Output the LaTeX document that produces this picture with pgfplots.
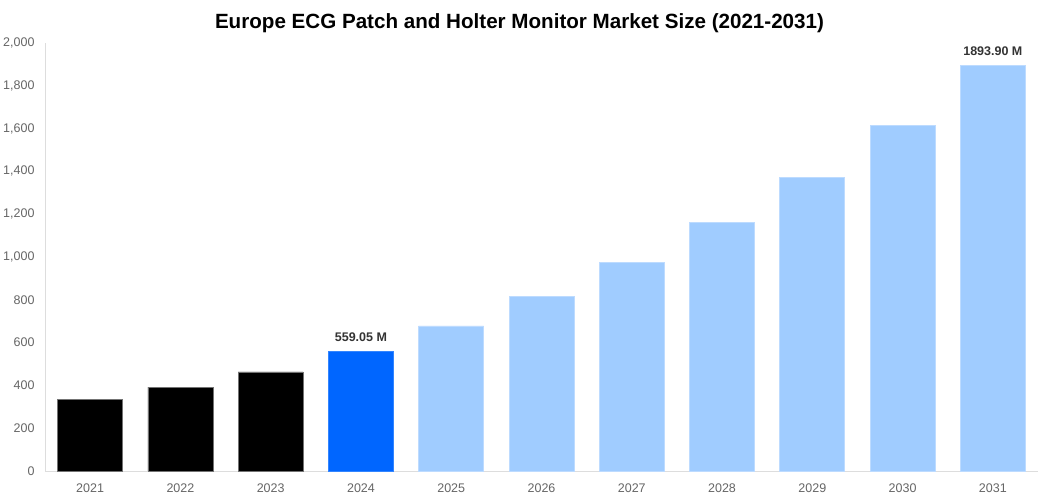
\documentclass[border=0pt]{standalone}
\usepackage{pgfplots}
\pgfplotsset{compat=1.18}
\usepackage{fontspec}
\setmainfont{Liberation Sans}
\definecolor{barblack}{HTML}{000000}
\definecolor{barblue}{HTML}{0066FF}
\definecolor{barlight}{HTML}{A0CCFF}
\definecolor{ticktext}{HTML}{666666}
\definecolor{axisline}{HTML}{DDDDDD}
\definecolor{labeltext}{HTML}{333333}
\begin{document}
\begin{tikzpicture}
\useasboundingbox (0,0) rectangle (1039bp,500bp);
\fill[white] (0,0) rectangle (1039bp,500bp);
\node[font=\fontsize{20.6bp}{24bp}\selectfont\bfseries, anchor=base] at (519.5bp,471bp) {Europe ECG Patch and Holter Monitor Market Size (2021-2031)};
\begin{axis}[
  at={(45bp,29bp)}, anchor=south west,
  scale only axis, width=993bp, height=428bp,
  xmin=-0.5, xmax=10.5, ymin=0, ymax=2000,
  ybar, bar width=65bp, bar shift=0pt,
  xtick={0,...,10},
  xticklabels={2021,2022,2023,2024,2025,2026,2027,2028,2029,2030,2031},
  ytick={0,200,...,2000},
  scaled y ticks=false,
  /pgf/number format/fixed,
  /pgf/number format/1000 sep={,},
  /pgf/number format/assume math mode=true,
  ticklabel style={font=\fontsize{12.5bp}{15bp}\selectfont, text=ticktext},
  xticklabel style={yshift=-9bp},
  yticklabel style={xshift=-7bp},
  major tick length=0pt,
  axis x line*=bottom, axis y line*=left,
  axis line style={axisline, line width=0.8bp},
  x axis line style={-}, y axis line style={-},
  nodes near coords style={font=\fontsize{12.5bp}{15bp}\selectfont\bfseries, text=labeltext, yshift=6bp},
  clip=false,
]
\addplot[fill=barblack, draw=black!55, line width=0.8bp] coordinates {(0,336) (1,392) (2,463)};
\addplot[fill=barblue, draw=barblue!80!white, line width=0.8bp, nodes near coords={559.05 M}] coordinates {(3,559.05)};
\addplot[fill=barlight, draw=barlight!70!white, line width=0.8bp] coordinates {(4,678) (5,814) (6,973) (7,1160) (8,1370) (9,1613)};
\addplot[fill=barlight, draw=barlight!70!white, line width=0.8bp, nodes near coords={1893.90 M}] coordinates {(10,1893.9)};
\end{axis}
\end{tikzpicture}
\end{document}
